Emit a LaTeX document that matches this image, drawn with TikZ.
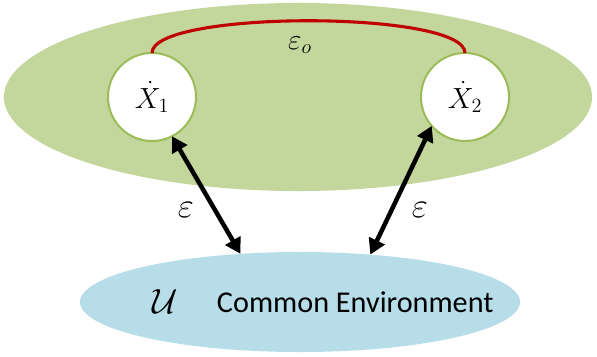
\documentclass[tikz,border=0pt]{standalone}
\usepackage{amsmath, amssymb}
\usepackage{fontspec}
\usepackage{tikz}
\usetikzlibrary{shapes.geometric, arrows.meta}
\newfontfamily\calibri{Carlito}
\definecolor{olivefill}{RGB}{195, 214, 155}
\definecolor{oliveline}{RGB}{155, 187, 89}
\definecolor{envfill}{RGB}{183, 221, 232}
\definecolor{linkred}{RGB}{192, 0, 0}

\begin{document}
\begin{tikzpicture}[x=0.025cm, y=-0.025cm,
  blob/.style={ellipse, inner sep=0pt, outer sep=0pt},
  agent/.style={circle, draw=oliveline, line width=1.4pt, fill=white,
    minimum size=2.2cm, inner sep=0pt, outer sep=0pt,
    font=\fontsize{22}{24}\selectfont},
  link/.style={line width=3.2pt, {Triangle[length=11pt, width=12pt]}-{Triangle[length=11pt, width=12pt]}}]

\useasboundingbox (0,0) rectangle (597,356);

\node[blob, fill=olivefill, minimum width=14.7cm, minimum height=4.7cm] (sys) at (298,97) {};
\node[blob, fill=envfill, minimum width=11cm, minimum height=2.5cm] (env) at (300,302) {};

\node[agent] (x1) at (152,97) {$\dot{X}_1$};
\node[agent] (x2) at (465,97) {$\dot{X}_2$};

\draw[linkred, line width=2.2pt] (x1.north) .. controls (152,10) and (465,10) .. (x2.north);
\node[font=\fontsize{22}{24}\selectfont] (eo) at (300,45) {$\varepsilon_o$};

\draw[link] (x1.-63) -- (env.141);
\draw[link] (x2.-139) -- (env.34);
\node[font=\fontsize{28}{30}\selectfont] (e1) at (186,210) {$\varepsilon$};
\node[font=\fontsize{28}{30}\selectfont] (e2) at (420,210) {$\varepsilon$};

\node[font=\fontsize{24}{26}\selectfont] (u) at (165,302) {$\mathcal{U}$};
\node[font=\calibri\fontsize{21.5}{24}\selectfont, anchor=west] (lbl) at (212,302) {Common Environment};

\end{tikzpicture}
\end{document}
